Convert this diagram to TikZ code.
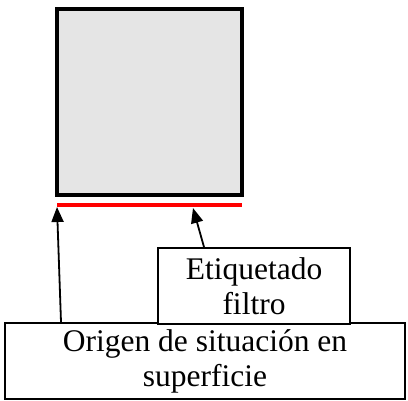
\documentclass[tikz,border=0pt]{standalone}
\usepackage{fontspec}
\setmainfont{Liberation Serif}
\usetikzlibrary{arrows.meta}
\begin{document}
\begin{tikzpicture}[x=1pt,y=-1pt,
  lbl/.style={draw=black,line width=2pt,fill=white,rectangle,inner sep=0pt,
    align=center,font=\fontsize{31.5}{35}\selectfont},
  arr/.style={line width=1.8pt,-{Triangle[length=15pt,width=12pt]}}]
\useasboundingbox (0,0) rectangle (408,401);
% square
\node[draw=black,line width=4pt,fill=black!10,minimum width=185pt,minimum height=186pt,inner sep=0pt] (sq) at (149,102.5) {};
% red line
\coordinate (ra) at (57,205);
\coordinate (rb) at (242,205);
\draw[red,line width=3.5pt] (ra) -- (rb);
\coordinate (h1) at (57,207);
\coordinate (h2) at (193,208);
% boxes
\node[lbl,minimum width=400pt,minimum height=76pt] (orig) at (205,361) {Origen de situación en\\superficie};
\node[lbl,minimum width=192pt,minimum height=76pt] (etiq) at (254,286) {Etiquetado\\filtro};
% arrows
\draw[arr] ([xshift=57pt]orig.north west) -- (h1);
\draw[arr] ([xshift=47pt]etiq.north west) -- (h2);
\end{tikzpicture}
\end{document}
